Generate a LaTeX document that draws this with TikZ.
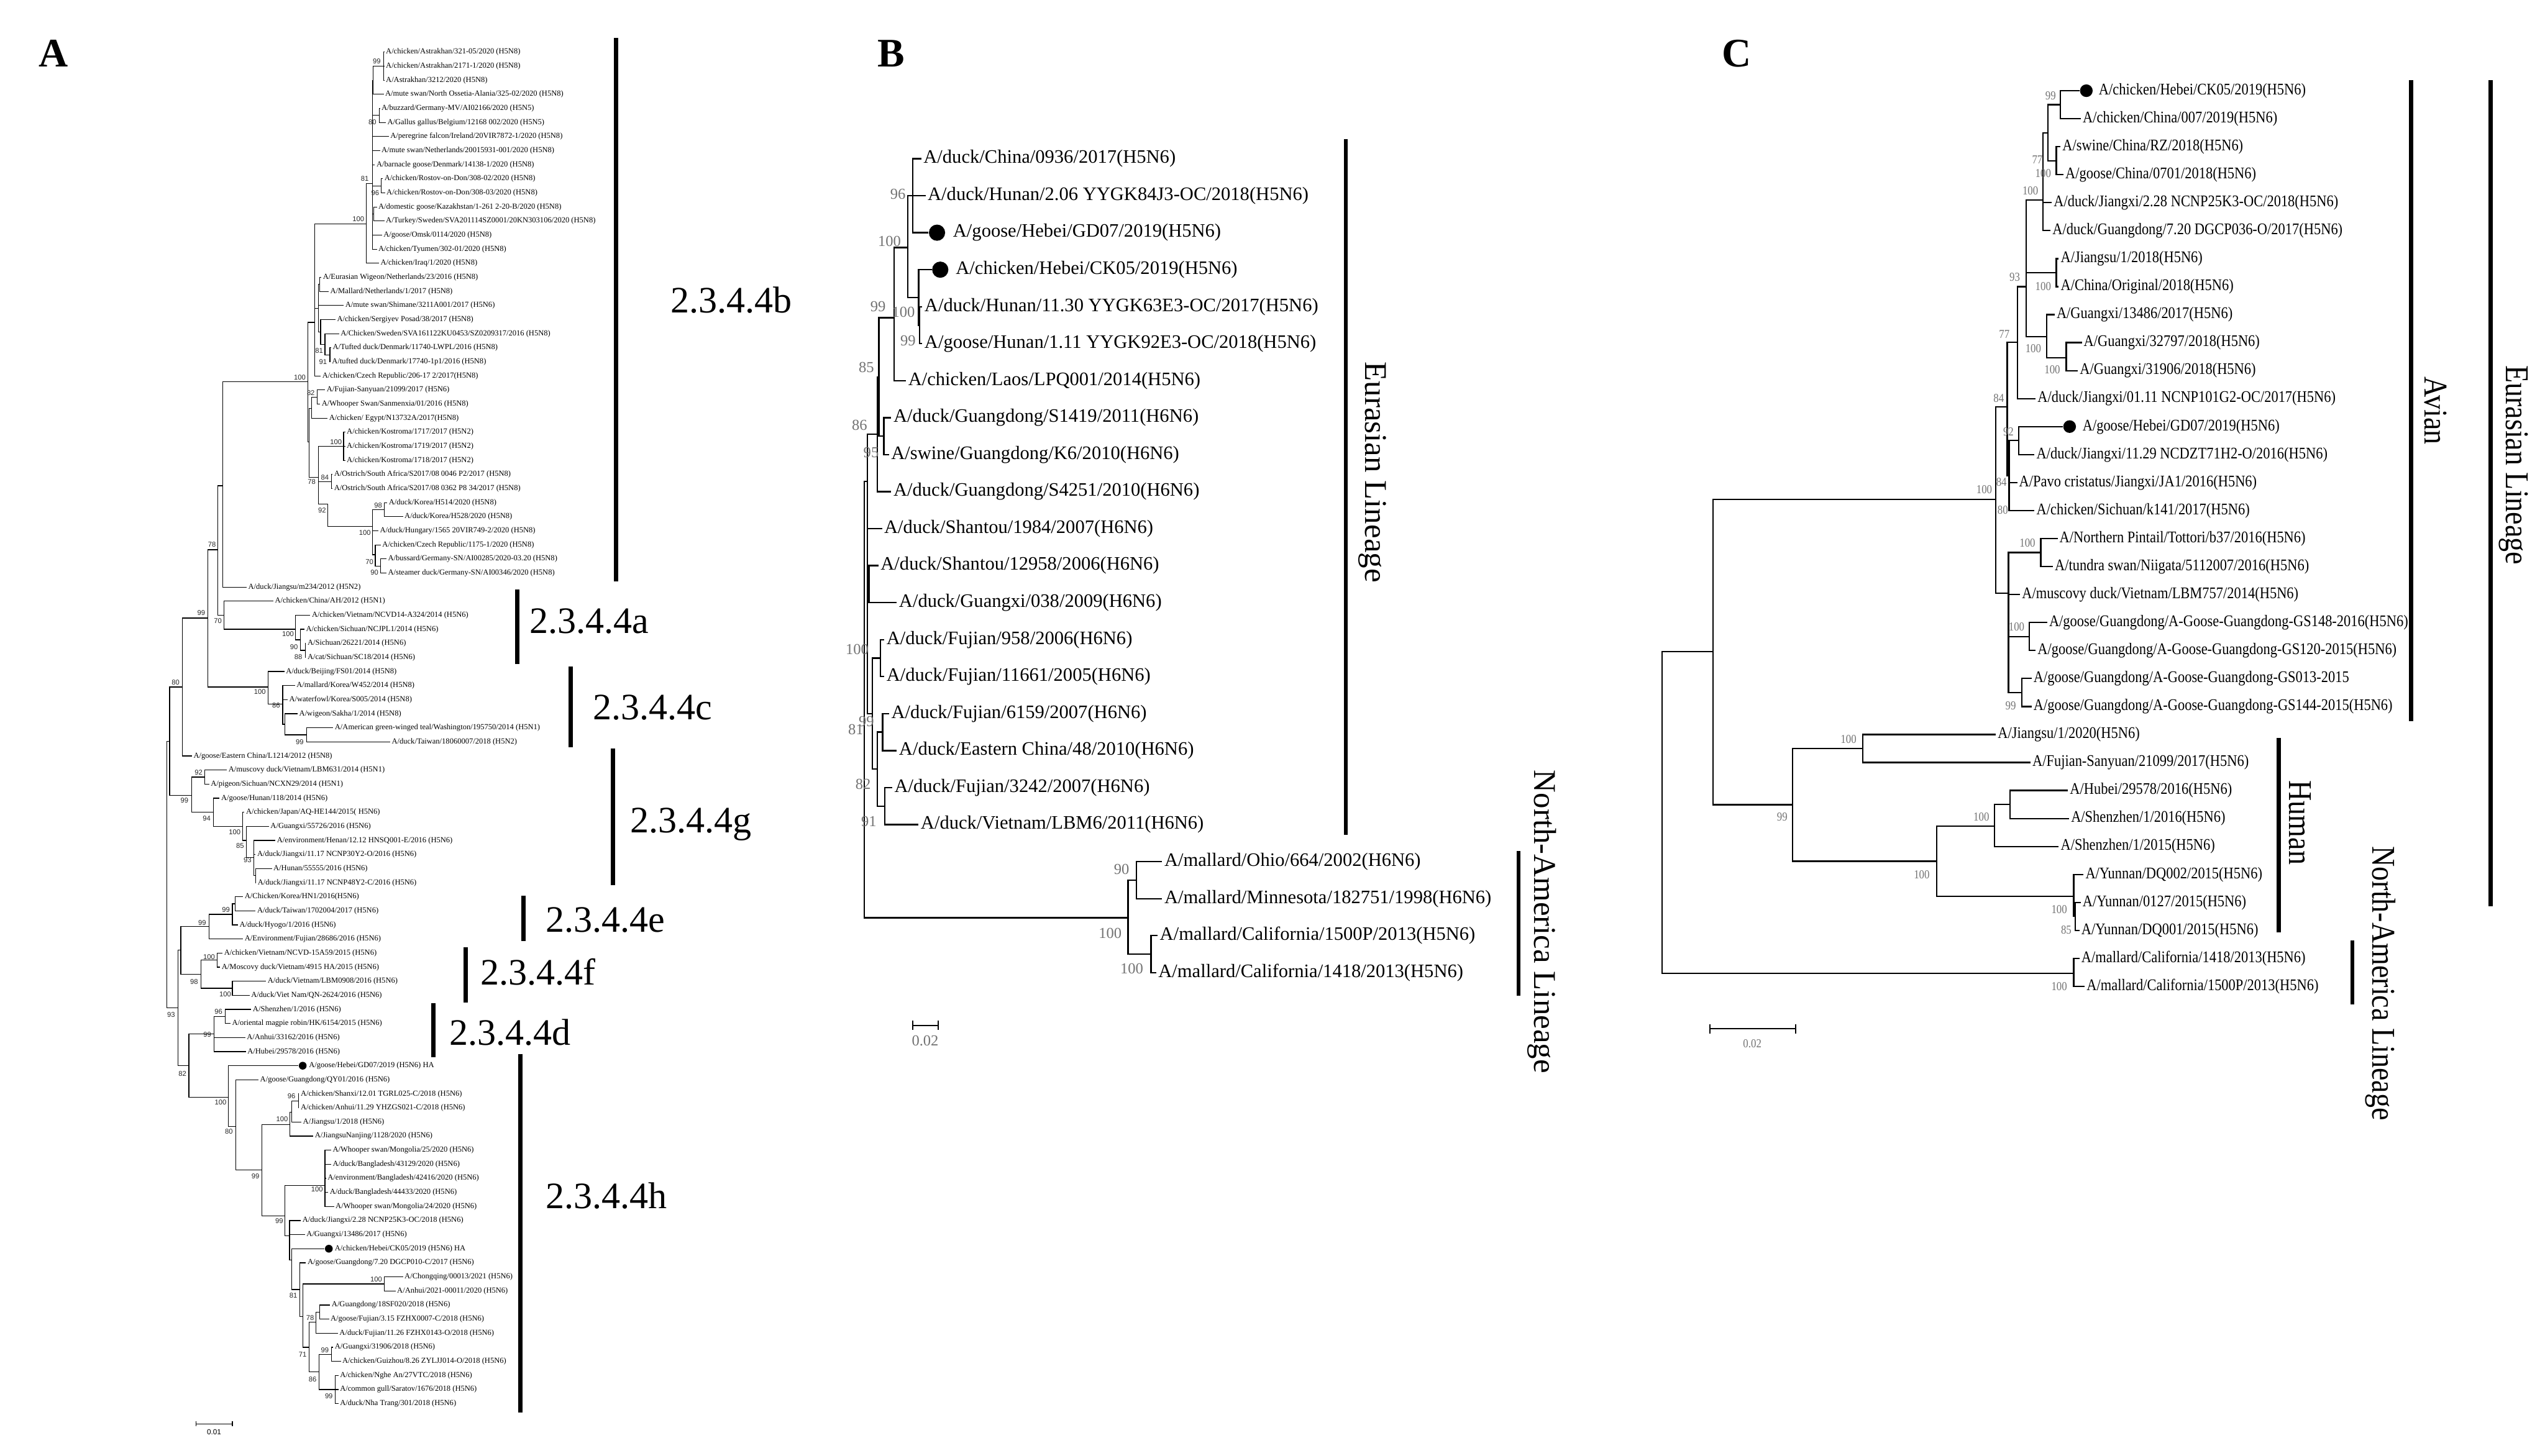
\documentclass[tikz,border=0pt]{standalone}
\usepackage{fontspec}
\setmainfont{Liberation Serif}
\newfontfamily\csf[FakeStretch=0.86]{Liberation Serif}
\newfontfamily\ssf{Liberation Sans}
\newcounter{tbsn}
\newcommand\trt[3]{\coordinate (#1) at (#2,#3);}
\newcommand\tnd[4]{\coordinate (#1) at (#3,#4); \draw[br] (#2) |- (#1);}
\newcommand\tlf[5]{\node[lf] (#1) at (#3,#4) {#5}; \draw[br] (#2) |- ([xshift=-\gp]#1.west);}
\newcommand\tld[6]{\node[dt] (#1d) at (#3,#4) {}; \draw[br] (#2) |- (#1d.west); \node[lf] (#1) at (#5,#4) {#6};}
\newcommand\tbs[3]{\stepcounter{tbsn}\node[bs] (bs\arabic{tbsn}) at (#1,#2) {#3};}
\begin{document}
\begin{tikzpicture}[x=1pt,y=-1pt,
  plab/.style={inner sep=0pt,font=\fontsize{25}{26}\selectfont\bfseries},
  cla/.style={anchor=west,inner sep=0pt,font=\fontsize{23}{24}\selectfont},
  linB/.style={rotate=-90,inner sep=0pt,font=\fontsize{19.5}{20}\selectfont},
  linC/.style={rotate=-90,inner sep=0pt,font=\csf\fontsize{20.5}{22}\selectfont}]
\useasboundingbox[fill=white] (0,0) rectangle (1568,897);
\node[plab] (pA) at (33,33) {A};
\node[plab] (pB) at (549,33) {B};
\node[plab] (pC) at (1070,33) {C};

% ================= PANEL A =================
\begin{scope}[y=-8.676pt,yshift=-23.424pt,
  br/.style={line width=0.45pt},
  lf/.style={anchor=west,inner sep=0pt,font=\fontsize{4.8}{5}\selectfont},
  bs/.style={inner sep=0pt,text=black!85,font=\ssf\fontsize{4.3}{4.5}\selectfont},
  dt/.style={circle,fill,inner sep=0pt,minimum size=4.8pt}]
\def\gp{0.8pt}
\trt{aBB}{102.7}{59.4}
\tnd{aAM}{aBB}{104.5}{49.95}
\tnd{aAL}{aAM}{112.4}{46.1}
\tnd{aAK}{aAL}{128.2}{41.2}
\tnd{aAB}{aAK}{134.2}{36.35}
\tnd{aAA}{aAB}{137.3}{31.8}
\tnd{aS}{aAA}{189.8}{24.4}
\tnd{aQ}{aS}{193.8}{20.2}
\tnd{aP2}{aQ}{225.6}{13.2}
\tnd{aP1}{aP2}{229.4}{10.35}
\tnd{aB}{aP1}{229.9}{3}
\tnd{a1}{aB}{236.3}{2}
\tnd{aC}{aP1}{233.6}{5.5}
\tnd{aD}{aP1}{234.9}{10.5}
\tnd{aE}{aP1}{230.3}{12.5}
\tnd{aR}{aQ}{196.2}{19.2}
\tnd{aF}{aR}{197.1}{17.5}
\tnd{aG}{aR}{197.5}{20.9}
\tnd{aH}{aG}{200.2}{21.75}
\tnd{aI}{aH}{203.3}{22.5}
\tnd{aW}{aS}{190.6}{28.7}
\tnd{aV}{aW}{192.0}{26.3}
\tnd{aU}{aV}{195.3}{25.5}
\tnd{aY}{aW}{196.2}{31.2}
\tnd{aK}{aY}{211.7}{29}
\tnd{aO}{aY}{204.2}{31.5}
\tnd{aZt}{aY}{202.0}{33.1}
\tnd{aZ}{aZt}{229.4}{34.7}
\tnd{aKo}{aZ}{236.7}{33.5}
\tnd{aJ}{aZ}{231.2}{36.7}
\tnd{aJt}{aJ}{234.5}{37.5}
\tnd{aAC}{aAB}{137.9}{41.0}
\tnd{aAD}{aAC}{182.0}{42.0}
\tnd{aAE}{aAD}{185.1}{42.75}
\tnd{aAF}{aAE}{188.0}{43.5}
\tnd{aAG}{aAK}{165.2}{46.1}
\tnd{aAH}{aAG}{174.2}{47.3}
\tnd{aAI}{aAH}{175.6}{48.75}
\tnd{aAJ}{aAI}{188.9}{49.5}
\tnd{aAN}{aAM}{118.2}{53.8}
\tnd{aAO}{aAN}{126.0}{52.5}
\tnd{aAP}{aAN}{131.5}{55.0}
\tnd{aAQ}{aAP}{149.5}{56.0}
\tnd{aAR}{aAQ}{151.9}{57.0}
\tnd{aAS}{aAR}{156.5}{58.2}
\tnd{aAT}{aAS}{157.4}{59.5}
\tnd{aBC}{aBB}{109.6}{68.9}
\tnd{aAX}{aBC}{111.4}{64.8}
\tnd{aAU}{aAX}{128.8}{63.1}
\tnd{aAV}{aAU}{143.2}{62.25}
\tnd{aAW}{aAV}{145.0}{61.5}
\tnd{aAY}{aAX}{123.7}{66.5}
\tnd{aAZ}{aAY}{133.7}{65.5}
\tnd{aBA}{aAY}{143.2}{67.5}
\tnd{aBD}{aBC}{116.4}{73.0}
\tnd{aBE}{aBD}{131.9}{70.75}
\tnd{aBG}{aBE}{138.8}{69.5}
\tnd{aBF}{aBD}{140.6}{75.25}
\tnd{aBH}{aBF}{145.2}{77.3}
\tnd{aBI}{aBH}{161.4}{80.4}
\tnd{aBJ}{aBI}{178.7}{77.2}
\tnd{aBL}{aBJ}{179.6}{76.3}
\tnd{aBM}{aBL}{183.8}{75.5}
\tnd{aBK}{aBI}{175.6}{83.66}
\tnd{aBN}{aBK}{200.2}{81.5}
\tnd{aBO}{aBK}{178.4}{85.1}
\tnd{aBR}{aBO}{179.6}{86.8}
\tnd{aBP}{aBR}{184.7}{88.9}
\tnd{aBU}{aBP}{186.5}{90.8}
\tnd{aBS}{aBU}{236.7}{88.5}
\tnd{aBX}{aBU}{190.6}{93.0}
\tnd{aBV}{aBX}{194.8}{91.2}
\tnd{aBY}{aBV}{197.1}{90.5}
\tnd{aBW}{aBX}{196.6}{94.75}
\tnd{aBZ}{aBW}{204.2}{93.5}
\tnd{aCA}{aBW}{206.6}{96}
% leaves
\tlf{L1}{a1}{237.6}{1}{A/chicken/Astrakhan/321-05/2020 (H5N8)}
\tlf{L2}{a1}{237.6}{2}{A/chicken/Astrakhan/2171-1/2020 (H5N8)}
\tlf{L3}{a1}{237.6}{3}{A/Astrakhan/3212/2020 (H5N8)}
\tlf{L4}{aB}{237.2}{4}{A/mute swan/North Ossetia-Alania/325-02/2020 (H5N8)}
\tlf{L5}{aC}{234.9}{5}{A/buzzard/Germany-MV/AI02166/2020 (H5N5)}
\tlf{L6}{aC}{238.5}{6}{A/Gallus gallus/Belgium/12168 002/2020 (H5N5)}
\tlf{L7}{aP1}{240.3}{7}{A/peregrine falcon/Ireland/20VIR7872-1/2020 (H5N8)}
\tlf{L8}{aP1}{234.9}{8}{A/mute swan/Netherlands/20015931-001/2020 (H5N8)}
\tlf{L9}{aP1}{231.8}{9}{A/barnacle goose/Denmark/14138-1/2020 (H5N8)}
\tlf{L10}{aD}{236.7}{10}{A/chicken/Rostov-on-Don/308-02/2020 (H5N8)}
\tlf{L11}{aD}{238.0}{11}{A/chicken/Rostov-on-Don/308-03/2020 (H5N8)}
\tlf{L12}{aE}{233.0}{12}{A/domestic goose/Kazakhstan/1-261 2-20-B/2020 (H5N8)}
\tlf{L13}{aE}{237.6}{13}{A/Turkey/Sweden/SVA201114SZ0001/20KN303106/2020 (H5N8)}
\tlf{L14}{aP1}{236.1}{14}{A/goose/Omsk/0114/2020 (H5N8)}
\tlf{L15}{aP1}{233.0}{15}{A/chicken/Tyumen/302-01/2020 (H5N8)}
\tlf{L16}{aP2}{234.3}{16}{A/chicken/Iraq/1/2020 (H5N8)}
\tlf{L17}{aF}{198.8}{17}{A/Eurasian Wigeon/Netherlands/23/2016 (H5N8)}
\tlf{L18}{aF}{203.3}{18}{A/Mallard/Netherlands/1/2017 (H5N8)}
\tlf{L19}{aR}{212.6}{19}{A/mute swan/Shimane/3211A001/2017 (H5N6)}
\tlf{L20}{aG}{207.5}{20}{A/chicken/Sergiyev Posad/38/2017 (H5N8)}
\tlf{L21}{aH}{209.7}{21}{A/Chicken/Sweden/SVA161122KU0453/SZ0209317/2016 (H5N8)}
\tlf{L22}{aI}{204.8}{22}{A/Tufted duck/Denmark/11740-LWPL/2016 (H5N8)}
\tlf{L23}{aI}{204.4}{23}{A/tufted duck/Denmark/17740-1p1/2016 (H5N8)}
\tlf{L24}{aQ}{198.4}{24}{A/chicken/Czech Republic/206-17 2/2017(H5N8)}
\tlf{L25}{aU}{201.1}{25}{A/Fujian-Sanyuan/21099/2017 (H5N6)}
\tlf{L26}{aU}{198.0}{26}{A/Whooper Swan/Sanmenxia/01/2016 (H5N8)}
\tlf{L27}{aV}{202.6}{27}{A/chicken/ Egypt/N13732A/2017(H5N8)}
\tlf{L28}{aK}{213.5}{28}{A/chicken/Kostroma/1717/2017 (H5N2)}
\tlf{L29}{aK}{213.5}{29}{A/chicken/Kostroma/1719/2017 (H5N2)}
\tlf{L30}{aK}{213.5}{30}{A/chicken/Kostroma/1718/2017 (H5N2)}
\tlf{L31}{aO}{205.7}{31}{A/Ostrich/South Africa/S2017/08 0046 P2/2017 (H5N8)}
\tlf{L32}{aO}{205.7}{32}{A/Ostrich/South Africa/S2017/08 0362 P8 34/2017 (H5N8)}
\tlf{L33}{aKo}{239.4}{33}{A/duck/Korea/H514/2020 (H5N8)}
\tlf{L34}{aKo}{249.1}{34}{A/duck/Korea/H528/2020 (H5N8)}
\tlf{L35}{aZ}{233.9}{35}{A/duck/Hungary/1565 20VIR749-2/2020 (H5N8)}
\tlf{L36}{aJ}{235.4}{36}{A/chicken/Czech Republic/1175-1/2020 (H5N8)}
\tlf{L37}{aJt}{238.9}{37}{A/bussard/Germany-SN/AI00285/2020-03.20 (H5N8)}
\tlf{L38}{aJt}{238.9}{38}{A/steamer duck/Germany-SN/AI00346/2020 (H5N8)}
\tlf{L39}{aAA}{152.8}{39}{A/duck/Jiangsu/m234/2012 (H5N2)}
\tlf{L40}{aAC}{169.2}{40}{A/chicken/China/AH/2012 (H5N1)}
\tlf{L41}{aAD}{192.0}{41}{A/chicken/Vietnam/NCVD14-A324/2014 (H5N6)}
\tlf{L42}{aAE}{188.4}{42}{A/chicken/Sichuan/NCJPL1/2014 (H5N6)}
\tlf{L43}{aAF}{189.3}{43}{A/Sichuan/26221/2014 (H5N6)}
\tlf{L44}{aAF}{189.3}{44}{A/cat/Sichuan/SC18/2014 (H5N6)}
\tlf{L45}{aAG}{176.0}{45}{A/duck/Beijing/FS01/2014 (H5N8)}
\tlf{L46}{aAH}{182.5}{46}{A/mallard/Korea/W452/2014 (H5N8)}
\tlf{L47}{aAH}{178.0}{47}{A/waterfowl/Korea/S005/2014 (H5N8)}
\tlf{L48}{aAI}{184.2}{48}{A/wigeon/Sakha/1/2014 (H5N8)}
\tlf{L49}{aAJ}{206.1}{49}{A/American green-winged teal/Washington/195750/2014 (H5N1)}
\tlf{L50}{aAJ}{241.2}{50}{A/duck/Taiwan/18060007/2018 (H5N2)}
\tlf{L51}{aAL}{119.1}{51}{A/goose/Eastern China/L1214/2012 (H5N8)}
\tlf{L52}{aAO}{140.6}{52}{A/muscovy duck/Vietnam/LBM631/2014 (H5N1)}
\tlf{L53}{aAO}{129.7}{53}{A/pigeon/Sichuan/NCXN29/2014 (H5N1)}
\tlf{L54}{aAP}{136.1}{54}{A/goose/Hunan/118/2014 (H5N6)}
\tlf{L55}{aAQ}{151.4}{55}{A/chicken/Japan/AQ-HE144/2015( H5N6)}
\tlf{L56}{aAR}{166.5}{56}{A/Guangxi/55726/2016 (H5N6)}
\tlf{L57}{aAS}{170.5}{57}{A/environment/Henan/12.12 HNSQ001-E/2016 (H5N6)}
\tlf{L58}{aAS}{158.3}{58}{A/duck/Jiangxi/11.17 NCNP30Y2-O/2016 (H5N6)}
\tlf{L59}{aAT}{168.3}{59}{A/Hunan/55555/2016 (H5N6)}
\tlf{L60}{aAT}{158.6}{60}{A/duck/Jiangxi/11.17 NCNP48Y2-C/2016 (H5N6)}
\tlf{L61}{aAW}{150.6}{61}{A/Chicken/Korea/HN1/2016(H5N6)}
\tlf{L62}{aAW}{158.3}{62}{A/duck/Taiwan/1702004/2017 (H5N6)}
\tlf{L63}{aAV}{147.4}{63}{A/duck/Hyogo/1/2016 (H5N6)}
\tlf{L64}{aAU}{150.6}{64}{A/Environment/Fujian/28686/2016 (H5N6)}
\tlf{L65}{aAZ}{137.9}{65}{A/chicken/Vietnam/NCVD-15A59/2015 (H5N6)}
\tlf{L66}{aAZ}{136.4}{66}{A/Moscovy duck/Vietnam/4915 HA/2015 (H5N6)}
\tlf{L67}{aBA}{164.7}{67}{A/duck/Vietnam/LBM0908/2016 (H5N6)}
\tlf{L68}{aBA}{154.6}{68}{A/duck/Viet Nam/QN-2624/2016 (H5N6)}
\tlf{L69}{aBG}{155.6}{69}{A/Shenzhen/1/2016 (H5N6)}
\tlf{L70}{aBG}{142.8}{70}{A/oriental magpie robin/HK/6154/2015 (H5N6)}
\tlf{L71}{aBE}{151.9}{71}{A/Anhui/33162/2016 (H5N6)}
\tlf{L72}{aBE}{152.3}{72}{A/Hubei/29578/2016 (H5N6)}
\tld{L73}{aBF}{186.5}{73}{190.2}{A/goose/Hebei/GD07/2019 (H5N6) HA}
\tlf{L74}{aBH}{160.1}{74}{A/goose/Guangdong/QY01/2016 (H5N6)}
\tlf{L75}{aBM}{185.1}{75}{A/chicken/Shanxi/12.01 TGRL025-C/2018 (H5N6)}
\tlf{L76}{aBM}{185.1}{76}{A/chicken/Anhui/11.29 YHZGS021-C/2018 (H5N6)}
\tlf{L77}{aBL}{186.5}{77}{A/Jiangsu/1/2018 (H5N6)}
\tlf{L78}{aBJ}{193.8}{78}{A/JiangsuNanjing/1128/2020 (H5N6)}
\tlf{L79}{aBN}{204.8}{79}{A/Whooper swan/Mongolia/25/2020 (H5N6)}
\tlf{L80}{aBN}{204.8}{80}{A/duck/Bangladesh/43129/2020 (H5N6)}
\tlf{L81}{aBN}{201.7}{81}{A/environment/Bangladesh/42416/2020 (H5N6)}
\tlf{L82}{aBN}{203.0}{82}{A/duck/Bangladesh/44433/2020 (H5N6)}
\tlf{L83}{aBN}{206.6}{83}{A/Whooper swan/Mongolia/24/2020 (H5N6)}
\tlf{L84}{aBO}{186.2}{84}{A/duck/Jiangxi/2.28 NCNP25K3-OC/2018 (H5N6)}
\tlf{L85}{aBO}{188.7}{85}{A/Guangxi/13486/2017 (H5N6)}
\tld{L86}{aBR}{202.6}{86}{206.1}{A/chicken/Hebei/CK05/2019 (H5N6) HA}
\tlf{L87}{aBP}{189.3}{87}{A/goose/Guangdong/7.20 DGCP010-C/2017 (H5N6)}
\tlf{L88}{aBS}{249.1}{88}{A/Chongqing/00013/2021 (H5N6)}
\tlf{L89}{aBS}{244.5}{89}{A/Anhui/2021-00011/2020 (H5N6)}
\tlf{L90}{aBY}{204.2}{90}{A/Guangdong/18SF020/2018 (H5N6)}
\tlf{L91}{aBY}{203.5}{91}{A/goose/Fujian/3.15 FZHX0007-C/2018 (H5N6)}
\tlf{L92}{aBV}{209.0}{92}{A/duck/Fujian/11.26 FZHX0143-O/2018 (H5N6)}
\tlf{L93}{aBZ}{206.1}{93}{A/Guangxi/31906/2018 (H5N6)}
\tlf{L94}{aBZ}{210.8}{94}{A/chicken/Guizhou/8.26 ZYLJJ014-O/2018 (H5N6)}
\tlf{L95}{aCA}{209.3}{95}{A/chicken/Nghe An/27VTC/2018 (H5N6)}
\tlf{L96}{aCA}{209.3}{96}{A/common gull/Saratov/1676/2018 (H5N6)}
\tlf{L97}{aCA}{209.3}{97}{A/duck/Nha Trang/301/2018 (H5N6)}
% bootstrap values
\tbs{232.1}{1.67}{99}
\tbs{229.4}{5.99}{80}
\tbs{231.2}{11.02}{96}
\tbs{224.8}{9.98}{81}
\tbs{220.8}{12.87}{100}
\tbs{196.6}{22.22}{81}
\tbs{199.0}{22.99}{91}
\tbs{184.7}{24.1}{100}
\tbs{191.5}{25.2}{82}
\tbs{207.0}{28.7}{100}
\tbs{200.2}{31.21}{84}
\tbs{192.0}{31.52}{78}
\tbs{233.0}{33.18}{98}
\tbs{198.4}{33.55}{92}
\tbs{224.8}{35.15}{100}
\tbs{130.6}{36.0}{78}
\tbs{227.6}{37.23}{70}
\tbs{230.7}{37.97}{90}
\tbs{124.0}{40.85}{99}
\tbs{134.2}{41.4}{70}
\tbs{177.4}{42.33}{100}
\tbs{181.1}{43.25}{90}
\tbs{183.8}{43.98}{88}
\tbs{108.2}{45.76}{80}
\tbs{160.1}{46.44}{100}
\tbs{170.1}{47.42}{86}
\tbs{184.7}{49.99}{99}
\tbs{122.4}{52.19}{92}
\tbs{113.6}{54.15}{99}
\tbs{127.3}{55.44}{94}
\tbs{144.6}{56.42}{100}
\tbs{147.9}{57.4}{85}
\tbs{152.5}{58.39}{93}
\tbs{139.2}{61.94}{99}
\tbs{124.6}{62.87}{99}
\tbs{128.8}{65.26}{100}
\tbs{119.6}{67.04}{98}
\tbs{138.8}{67.91}{100}
\tbs{105.4}{69.39}{93}
\tbs{134.6}{69.14}{96}
\tbs{127.7}{70.8}{99}
\tbs{112.4}{73.56}{82}
\tbs{135.9}{75.58}{100}
\tbs{179.6}{75.15}{96}
\tbs{173.8}{76.81}{100}
\tbs{141.0}{77.67}{80}
\tbs{157.4}{80.86}{99}
\tbs{195.3}{81.78}{100}
\tbs{172.0}{84.05}{99}
\tbs{231.8}{88.19}{100}
\tbs{180.7}{89.33}{81}
\tbs{191.1}{90.93}{78}
\tbs{186.5}{93.5}{71}
\tbs{200.2}{93.2}{99}
\tbs{192.6}{95.26}{86}
\tbs{202.6}{96.45}{99}
\end{scope}
% clade bars panel A
\begin{scope}[line width=2.8pt]
\draw (379.6,23.3) -- (379.6,358.4);
\draw (318.7,363.2) -- (318.7,409.3);
\draw (351.5,410.9) -- (351.5,460.7);
\draw (377.6,461.3) -- (377.6,545.6);
\draw (322.4,551.9) -- (322.4,580);
\draw (286.8,583.7) -- (286.8,617.7);
\draw (267.1,618.2) -- (267.1,651.6);
\draw (320.5,649.5) -- (320.5,870.6);
\end{scope}
\node[cla] (cb) at (413,185) {2.3.4.4b};
\node[cla] (ca) at (326.1,382.8) {2.3.4.4a};
\node[cla] (cc) at (365,436) {2.3.4.4c};
\node[cla] (cg) at (388,508) {2.3.4.4g};
\node[cla] (ce) at (336.2,566.8) {2.3.4.4e};
\node[cla] (cf) at (296,599) {2.3.4.4f};
\node[cla] (cd) at (276.8,636.2) {2.3.4.4d};
\node[cla] (ch) at (336,737) {2.3.4.4h};
% scale A
\draw[line width=0.5pt] (120.9,876) -- (120.9,879) (120.9,877.5) -- (143.2,877.5) (143.2,876) -- (143.2,879);
\node[inner sep=0pt,font=\ssf\fontsize{4.5}{5}\selectfont] (sA) at (131.9,882.4) {0.01};

% ================= PANEL B =================
\begin{scope}[y=-22.8pt,yshift=-75pt,
  br/.style={line width=0.9pt},
  lf/.style={anchor=west,inner sep=0pt,font=\fontsize{11.7}{12}\selectfont},
  bs/.style={inner sep=0pt,text=black!55,font=\fontsize{9.4}{10}\selectfont},
  dt/.style={circle,fill,inner sep=0pt,minimum size=10pt}]
\def\gp{1.2pt}
\trt{bRt}{532.4}{15.6}
\tnd{bE}{bRt}{534.5}{9.72}
\tnd{bNg}{bE}{540.4}{8.45}
\tnd{bNf}{bNg}{541.5}{6.9}
\tnd{bNe}{bNf}{550.9}{5.3}
\tnd{bNb}{bNe}{559.4}{3.4}
\tnd{bNa}{bNb}{562.3}{2}
\tnd{bNc}{bNb}{566.0}{4.75}
\tnd{bNd}{bNc}{566.6}{5.5}
\tnd{bNh}{bNf}{544.6}{8.5}
\tnd{bNi}{bE}{535.3}{12.5}
\tnd{bNn}{bE}{537.5}{16.0}
\tnd{bNj}{bNn}{542.4}{14.5}
\tnd{bNm}{bNn}{540.4}{17.5}
\tnd{bNk}{bNm}{543.8}{16.5}
\tnd{bNl}{bNm}{545.2}{18.5}
\tnd{bNA}{bRt}{695.0}{21.52}
\tnd{bNq}{bNA}{700.1}{20.5}
\tnd{bNr}{bNA}{709.2}{22.5}
\tlf{bL1}{bNa}{568.8}{1}{A/duck/China/0936/2017(H5N6)}
\tlf{bL2}{bNa}{571.4}{2}{A/duck/Hunan/2.06 YYGK84J3-OC/2018(H5N6)}
\tld{bL3}{bNa}{577.3}{3}{587.0}{A/goose/Hebei/GD07/2019(H5N6)}
\tld{bL4}{bNc}{579.3}{4}{588.7}{A/chicken/Hebei/CK05/2019(H5N6)}
\tlf{bL5}{bNd}{569.4}{5}{A/duck/Hunan/11.30 YYGK63E3-OC/2017(H5N6)}
\tlf{bL6}{bNd}{569.4}{6}{A/goose/Hunan/1.11 YYGK92E3-OC/2018(H5N6)}
\tlf{bL7}{bNe}{559.4}{7}{A/chicken/Laos/LPQ001/2014(H5N6)}
\tlf{bL8}{bNh}{550.3}{8}{A/duck/Guangdong/S1419/2011(H6N6)}
\tlf{bL9}{bNh}{548.9}{9}{A/swine/Guangdong/K6/2010(H6N6)}
\tlf{bL10}{bNg}{550.3}{10}{A/duck/Guangdong/S4251/2010(H6N6)}
\tlf{bL11}{bE}{544.6}{11}{A/duck/Shantou/1984/2007(H6N6)}
\tlf{bL12}{bNi}{542.4}{12}{A/duck/Shantou/12958/2006(H6N6)}
\tlf{bL13}{bNi}{553.7}{13}{A/duck/Guangxi/038/2009(H6N6)}
\tlf{bL14}{bNj}{546.0}{14}{A/duck/Fujian/958/2006(H6N6)}
\tlf{bL15}{bNj}{546.0}{15}{A/duck/Fujian/11661/2005(H6N6)}
\tlf{bL16}{bNk}{549.0}{16}{A/duck/Fujian/6159/2007(H6N6)}
\tlf{bL17}{bNk}{553.7}{17}{A/duck/Eastern China/48/2010(H6N6)}
\tlf{bL18}{bNl}{550.9}{18}{A/duck/Fujian/3242/2007(H6N6)}
\tlf{bL19}{bNl}{567.1}{19}{A/duck/Vietnam/LBM6/2011(H6N6)}
\tlf{bL20}{bNq}{717.2}{20}{A/mallard/Ohio/664/2002(H6N6)}
\tlf{bL21}{bNq}{717.2}{21}{A/mallard/Minnesota/182751/1998(H6N6)}
\tlf{bL22}{bNr}{714.4}{22}{A/mallard/California/1500P/2013(H5N6)}
\tlf{bL23}{bNr}{713.5}{23}{A/mallard/California/1418/2013(H5N6)}
\tbs{553.2}{1.96}{96}
\tbs{548.0}{3.23}{100}
\tbs{541.0}{4.99}{99}
\tbs{556.6}{5.14}{100}
\tbs{559.4}{5.92}{99}
\tbs{533.8}{6.64}{85}
\tbs{529.6}{8.2}{86}
\tbs{536.7}{8.94}{95}
\tbs{528.1}{14.26}{100}
\tbs{533.8}{16.22}{99}
\tbs{527.3}{16.43}{81}
\tbs{531.8}{17.9}{82}
\tbs{535.3}{18.92}{91}
\tbs{691.0}{20.2}{90}
\tbs{684.0}{21.94}{100}
\tbs{697.3}{22.9}{100}
\end{scope}
\draw[line width=2.3pt] (829,85.6) -- (829,514.5);
\draw[line width=2.3pt] (935.5,524.5) -- (935.5,613.7);
\node[linB] (eB) at (845.5,291) {Eurasian Lineage};
\node[linB] (nB) at (950,568) {North-America Lineage};
\draw[line width=0.8pt] (562.3,629) -- (562.3,634.8) (562.3,631.9) -- (577.9,631.9) (577.9,629) -- (577.9,634.8);
\node[inner sep=0pt,text=black!55,font=\fontsize{9.4}{10}\selectfont] (sB) at (570,641.5) {0.02};

% ================= PANEL C =================
\begin{scope}[y=-17.25pt,yshift=-38.65pt,
  br/.style={line width=0.85pt},
  lf/.style={anchor=west,inner sep=0pt,font=\csf\fontsize{10}{11}\selectfont},
  bs/.style={inner sep=0pt,text=black!55,font=\csf\fontsize{7.5}{8}\selectfont},
  dt/.style={circle,fill,inner sep=0pt,minimum size=7.8pt}]
\def\gp{1pt}
\trt{cRt}{1024.1}{26.8}
\tnd{cH}{cRt}{1055.4}{21.04}
\tnd{cAv}{cH}{1229.6}{15.6}
\tnd{cC10}{cAv}{1236.7}{12.3}
\tnd{cC9}{cC10}{1243.1}{9.99}
\tnd{cC6}{cC9}{1248.4}{8.0}
\tnd{cC4}{cC6}{1258.7}{4.91}
\tnd{cC3}{cC4}{1261.6}{2.5}
\tnd{cC1}{cC3}{1269.4}{1.5}
\tnd{cC2}{cC3}{1266.9}{3.5}
\tnd{cC5}{cC6}{1266.9}{7.5}
\tnd{cC7}{cC6}{1260.9}{9.78}
\tnd{cC8}{cC7}{1273.0}{10.54}
\tnd{cC12}{cC10}{1237.8}{14.75}
\tnd{cC11}{cC12}{1243.8}{13.5}
\tnd{cC14}{cAv}{1237.4}{18.95}
\tnd{cC15}{cC14}{1257.3}{17.5}
\tnd{cC16}{cC14}{1250.2}{20.5}
\tnd{cC17}{cC14}{1245.6}{22.5}
\tnd{cC19}{cH}{1104.5}{26.51}
\tnd{cC20}{cC19}{1147.8}{24.5}
\tnd{cC21}{cC19}{1193.3}{28.53}
\tnd{cC22}{cC21}{1228.9}{27.27}
\tnd{cC24}{cC22}{1238.5}{26.5}
\tnd{cC23}{cC21}{1277.6}{29.79}
\tnd{cC25}{cC23}{1278.6}{30.5}
\tnd{cC26}{cRt}{1277.6}{32.54}
\tld{cL1}{cC1}{1285.4}{1}{1292.9}{A/chicken/Hebei/CK05/2019(H5N6)}
\tlf{cL2}{cC1}{1283.0}{2}{A/chicken/China/007/2019(H5N6)}
\tlf{cL3}{cC2}{1270.5}{3}{A/swine/China/RZ/2018(H5N6)}
\tlf{cL4}{cC2}{1272.3}{4}{A/goose/China/0701/2018(H5N6)}
\tlf{cL5}{cC4}{1265.1}{5}{A/duck/Jiangxi/2.28 NCNP25K3-OC/2018(H5N6)}
\tlf{cL6}{cC4}{1264.4}{6}{A/duck/Guangdong/7.20 DGCP036-O/2017(H5N6)}
\tlf{cL7}{cC5}{1269.4}{7}{A/Jiangsu/1/2018(H5N6)}
\tlf{cL8}{cC5}{1269.4}{8}{A/China/Original/2018(H5N6)}
\tlf{cL9}{cC7}{1266.9}{9}{A/Guangxi/13486/2017(H5N6)}
\tlf{cL10}{cC8}{1283.6}{10}{A/Guangxi/32797/2018(H5N6)}
\tlf{cL11}{cC8}{1281.2}{11}{A/Guangxi/31906/2018(H5N6)}
\tlf{cL12}{cC9}{1255.2}{12}{A/duck/Jiangxi/01.11 NCNP101G2-OC/2017(H5N6)}
\tld{cL13}{cC11}{1275.1}{13}{1282.9}{A/goose/Hebei/GD07/2019(H5N6)}
\tlf{cL14}{cC11}{1254.5}{14}{A/duck/Jiangxi/11.29 NCDZT71H2-O/2016(H5N6)}
\tlf{cL15}{cC12}{1243.8}{15}{A/Pavo cristatus/Jiangxi/JA1/2016(H5N6)}
\tlf{cL16}{cC12}{1254.5}{16}{A/chicken/Sichuan/k141/2017(H5N6)}
\tlf{cL17}{cC15}{1268.7}{17}{A/Northern Pintail/Tottori/b37/2016(H5N6)}
\tlf{cL18}{cC15}{1265.8}{18}{A/tundra swan/Niigata/5112007/2016(H5N6)}
\tlf{cL19}{cC14}{1245.6}{19}{A/muscovy duck/Vietnam/LBM757/2014(H5N6)}
\tlf{cL20}{cC16}{1262.3}{20}{A/goose/Guangdong/A-Goose-Guangdong-GS148-2016(H5N6)}
\tlf{cL21}{cC16}{1255.2}{21}{A/goose/Guangdong/A-Goose-Guangdong-GS120-2015(H5N6)}
\tlf{cL22}{cC17}{1252.7}{22}{A/goose/Guangdong/A-Goose-Guangdong-GS013-2015}
\tlf{cL23}{cC17}{1252.7}{23}{A/goose/Guangdong/A-Goose-Guangdong-GS144-2015(H5N6)}
\tlf{cL24}{cC20}{1230.7}{24}{A/Jiangsu/1/2020(H5N6)}
\tlf{cL25}{cC20}{1252.0}{25}{A/Fujian-Sanyuan/21099/2017(H5N6)}
\tlf{cL26}{cC24}{1275.1}{26}{A/Hubei/29578/2016(H5N6)}
\tlf{cL27}{cC24}{1275.8}{27}{A/Shenzhen/1/2016(H5N6)}
\tlf{cL28}{cC22}{1269.4}{28}{A/Shenzhen/1/2015(H5N6)}
\tlf{cL29}{cC23}{1284.7}{29}{A/Yunnan/DQ002/2015(H5N6)}
\tlf{cL30}{cC25}{1282.9}{30}{A/Yunnan/0127/2015(H5N6)}
\tlf{cL31}{cC25}{1282.2}{31}{A/Yunnan/DQ001/2015(H5N6)}
\tlf{cL32}{cC26}{1282.2}{32}{A/mallard/California/1418/2013(H5N6)}
\tlf{cL33}{cC26}{1285.4}{33}{A/mallard/California/1500P/2013(H5N6)}
\tbs{1263.4}{1.17}{99}
\tbs{1255.2}{3.46}{77}
\tbs{1258.8}{3.96}{100}
\tbs{1250.9}{4.57}{100}
\tbs{1241.3}{7.67}{93}
\tbs{1258.8}{8.0}{100}
\tbs{1234.9}{9.7}{77}
\tbs{1252.7}{10.2}{100}
\tbs{1264.4}{10.97}{100}
\tbs{1231.4}{11.98}{84}
\tbs{1237.4}{13.19}{92}
\tbs{1233.1}{14.99}{84}
\tbs{1222.5}{15.24}{100}
\tbs{1233.9}{15.98}{80}
\tbs{1249.1}{17.16}{100}
\tbs{1242.4}{20.16}{100}
\tbs{1238.8}{22.97}{99}
\tbs{1138.9}{24.18}{100}
\tbs{1098.0}{26.95}{99}
\tbs{1220.7}{26.95}{100}
\tbs{1184.0}{29.0}{100}
\tbs{1268.7}{30.25}{100}
\tbs{1273.0}{30.98}{85}
\tbs{1268.7}{33.0}{100}
\end{scope}
\begin{scope}[line width=2.6pt]
\draw (1485.5,49.4) -- (1485.5,444.4);
\draw (1534.6,49.4) -- (1534.6,558.7);
\draw (1403.8,454.9) -- (1403.8,574.6);
\draw (1449.3,579.6) -- (1449.3,619);
\end{scope}
\node[linC] (avC) at (1500.5,253) {Avian};
\node[linC] (eC) at (1548.5,286.6) {Eurasian Lineage};
\node[linC] (hC) at (1417,507) {Human};
\node[linC] (nC) at (1466.5,606) {North-America Lineage};
\draw[line width=0.8pt] (1053.6,631.1) -- (1053.6,636.9) (1053.6,634) -- (1106.2,634) (1106.2,631.1) -- (1106.2,636.9);
\node[inner sep=0pt,text=black!55,font=\csf\fontsize{7.5}{8}\selectfont] (sC) at (1079.6,643.3) {0.02};
\end{tikzpicture}
\end{document}
